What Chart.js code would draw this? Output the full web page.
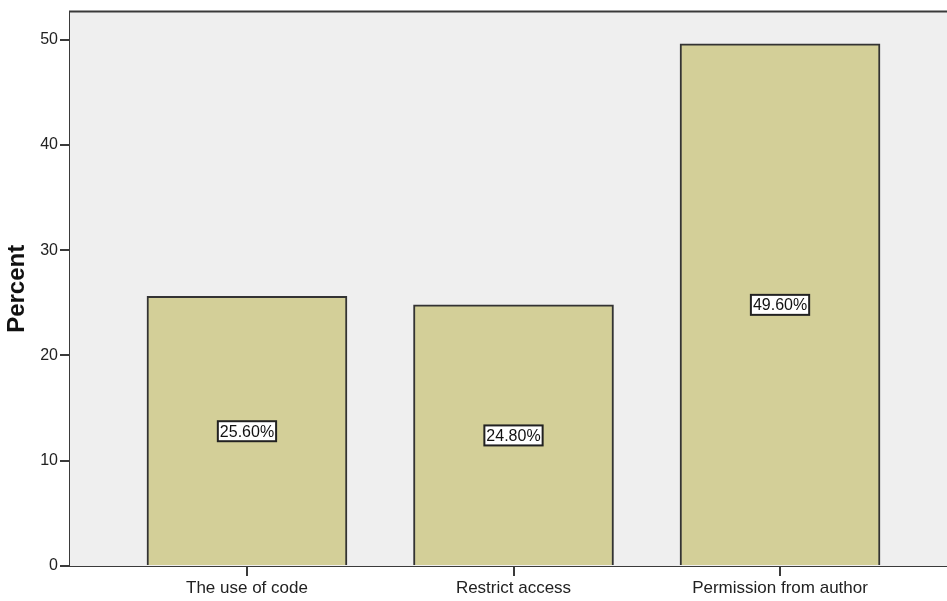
<!DOCTYPE html>
<html>
<head>
<meta charset="utf-8">
<script src="https://cdn.jsdelivr.net/npm/chart.js@4/dist/chart.umd.min.js"></script>
<style>
  html, body { margin: 0; padding: 0; background: #ffffff; overflow: hidden; }
  #wrap { width: 960px; height: 601px; position: relative; }
</style>
</head>
<body>
<div id="wrap"><canvas id="c" width="960" height="601"></canvas></div>
<script>
const categories = ['The use of code', 'Restrict access', 'Permission from author'];
const percents = [25.6, 24.8, 49.6];
const valueLabels = ['25.60%', '24.80%', '49.60%'];
const yTicks = [0, 10, 20, 30, 40, 50];

const frameColor = '#3a3a3a';
const textColor = '#222222';

const plotBg = {
  id: 'plotBg',
  beforeDatasetsDraw(chart) {
    const { ctx, chartArea: a } = chart;
    ctx.save();
    ctx.fillStyle = '#efefef';
    ctx.fillRect(a.left, a.top, a.right - a.left, a.bottom - a.top);
    ctx.restore();
  },
  afterDraw(chart) {
    const { ctx, chartArea: a } = chart;
    ctx.save();
    ctx.strokeStyle = frameColor;
    ctx.lineWidth = 2;
    ctx.beginPath();
    ctx.moveTo(a.left - 1, a.top);
    ctx.lineTo(a.right, a.top);
    ctx.lineTo(a.right, a.bottom);
    ctx.stroke();
    ctx.restore();
  }
};

const valueBoxes = {
  id: 'valueBoxes',
  afterDatasetsDraw(chart) {
    const { ctx } = chart;
    const meta = chart.getDatasetMeta(0);
    const yScale = chart.scales.y;
    ctx.save();
    ctx.font = '16px "Liberation Sans", Arial, sans-serif';
    ctx.textAlign = 'center';
    ctx.textBaseline = 'middle';
    meta.data.forEach((bar, i) => {
      const txt = valueLabels[i];
      const y = yScale.getPixelForValue(percents[i] / 2);
      const x = bar.x;
      const w = ctx.measureText(txt).width + 4;
      const h = 20;
      ctx.fillStyle = '#ffffff';
      ctx.fillRect(x - w / 2, y - h / 2, w, h);
      ctx.strokeStyle = '#222222';
      ctx.lineWidth = 2;
      ctx.strokeRect(x - w / 2, y - h / 2, w, h);
      ctx.fillStyle = '#111111';
      ctx.fillText(txt, x, y + 1);
    });
    ctx.restore();
  }
};

new Chart(document.getElementById('c'), {
  type: 'bar',
  data: {
    datasets: [{
      data: percents.map((v, i) => ({ x: i, y: v })),
      backgroundColor: '#d3cf98',
      borderColor: '#333333',
      borderWidth: 2,
      borderSkipped: 'bottom',
      barThickness: 200
    }]
  },
  options: {
    responsive: false,
    animation: false,
    events: [],
    layout: { padding: { left: 0, top: 9, right: 3, bottom: 0 } },
    plugins: { legend: { display: false }, tooltip: { enabled: false } },
    scales: {
      x: {
        type: 'linear',
        offset: false,
        min: -0.664,
        max: 2.664,
        afterBuildTicks(scale) { scale.ticks = categories.map((c, i) => ({ value: i })); },
        afterFit(scale) { scale.height = 35; },
        ticks: {
          autoSkip: false,
          maxRotation: 0,
          padding: 2,
          color: textColor,
          font: { family: '"Liberation Sans", Arial, sans-serif', size: 17 },
          callback: (v) => categories[Math.round(v)]
        },
        grid: { display: true, offset: false, drawOnChartArea: false, drawTicks: true, tickLength: 10, color: frameColor, lineWidth: 2 },
        border: { display: true, color: frameColor, width: 2 }
      },
      y: {
        min: 0,
        max: 52.65,
        afterBuildTicks(scale) { scale.ticks = yTicks.map(v => ({ value: v })); },
        afterFit(scale) { scale.width = 70; },
        ticks: {
          padding: 2,
          color: textColor,
          font: { family: '"Liberation Sans", Arial, sans-serif', size: 16 }
        },
        grid: { display: true, drawOnChartArea: false, drawTicks: true, tickLength: 10, color: frameColor, lineWidth: 2 },
        border: { display: true, color: frameColor, width: 2 },
        title: {
          display: true,
          text: 'Percent',
          color: '#111111',
          padding: { top: 3, bottom: 0 },
          font: { family: '"Liberation Sans", Arial, sans-serif', size: 24, weight: 'bold' }
        }
      }
    }
  },
  plugins: [plotBg, valueBoxes]
});
</script>
</body>
</html>
